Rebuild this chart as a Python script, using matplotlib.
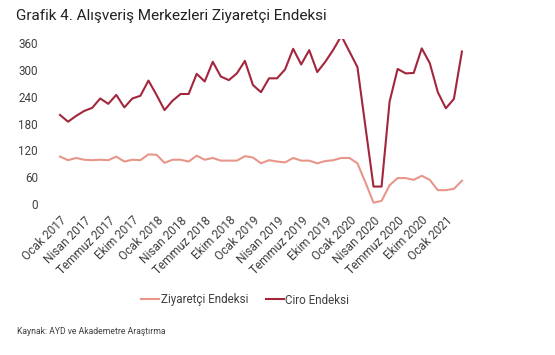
import matplotlib
matplotlib.use("Agg")
import matplotlib.pyplot as plt

plt.rcParams['font.family'] = ['Roboto', 'DejaVu Sans']

months = ["Ocak", "Şubat", "Mart", "Nisan", "Mayıs", "Haziran", "Temmuz",
          "Ağustos", "Eylül", "Ekim", "Kasım", "Aralık"]
years = [2017, 2018, 2019, 2020, 2021]

ziyaretci = [106, 98, 103, 99, 98, 99, 98, 106, 95, 99, 98, 111,
             110, 92, 99, 99, 95, 108, 99, 103, 97, 97, 97, 107,
             104, 91, 98, 95, 93, 103, 97, 97, 91, 96, 98, 103,
             103, 91, 48, 3, 7, 42, 58, 58, 54, 63, 54, 31,
             31, 34, 52]
ciro = [199, 184, 197, 208, 215, 236, 224, 244, 216, 236, 242, 276,
        244, 210, 231, 246, 246, 291, 274, 318, 285, 277, 292, 320,
        266, 250, 281, 281, 301, 347, 312, 344, 295, 318, 345, 376,
        341, 306, 172, 39, 39, 229, 302, 292, 293, 348, 315, 250,
        214, 235, 341]

labels_all = [f"{months[i % 12]} {years[i // 12]}" for i in range(len(ciro))]
tick_idx = list(range(0, len(ciro), 3))
tick_labels = [labels_all[i] for i in tick_idx]
y_ticks = [0, 60, 120, 180, 240, 300, 360]

fig = plt.figure(figsize=(5.55, 3.55), dpi=100)
ax = fig.add_axes([0.0937, 0.4127, 0.7531, 0.4788])
x = list(range(len(ciro)))
l1, = ax.plot(x, ziyaretci, color='#E8968A', lw=1.5, label='Ziyaretçi Endeksi')
l2, = ax.plot(x, ciro, color='#A3263D', lw=1.5, label='Ciro Endeksi')

ax.set_xlim(-1, 51)
ax.set_ylim(-10, 370)
ax.set_yticks(y_ticks)
ax.set_yticklabels([str(v) for v in y_ticks])
ax.set_xticks(tick_idx)
ax.set_xticklabels(tick_labels, rotation=45, ha='right', rotation_mode='anchor')
ax.tick_params(axis='both', length=0, colors='#404040')
ax.tick_params(axis='y', pad=10, labelsize=8.4)
ax.tick_params(axis='x', pad=4, labelsize=8.6)
for s in ax.spines.values():
    s.set_visible(False)

fig.legend(handles=[l1, l2], loc='center', bbox_to_anchor=(245 / 555, 1 - 300 / 355),
           ncol=2, frameon=False, fontsize=8.4, handlelength=1.6, handletextpad=0.1,
           columnspacing=1.5, labelcolor='#404040')

fig.text(16 / 555, 1 - 16 / 355, "Grafik 4. Alışveriş Merkezleri Ziyaretçi Endeksi",
         fontsize=11, color='#222222', va='center', ha='left')
fig.text(17 / 555, 1 - 331 / 355, "Kaynak: AYD ve Akademetre Araştırma",
         fontsize=6.2, color='#404040', va='center', ha='left')

fig.savefig("out.png", dpi=100)
